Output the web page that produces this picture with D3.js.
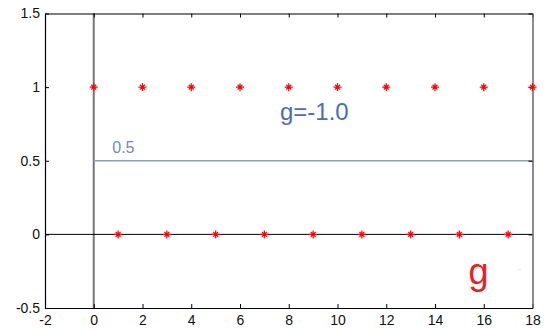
<!DOCTYPE html>
<html>
<head>
<meta charset="utf-8">
<script src="https://cdn.jsdelivr.net/npm/d3@7"></script>
<style>
  html, body { margin: 0; padding: 0; background: #fff; }
  svg { display: block; font-family: "Liberation Sans", Arial, sans-serif; }
</style>
</head>
<body>
<svg id="chart" width="547" height="330"></svg>
<script>
// Sample index n and sequence value for g = -1.0
const nValues = [0, 1, 2, 3, 4, 5, 6, 7, 8, 9, 10, 11, 12, 13, 14, 15, 16, 17, 18];
const seqValues = [1, 0, 1, 0, 1, 0, 1, 0, 1, 0, 1, 0, 1, 0, 1, 0, 1, 0, 1];
const meanLevel = 0.5;
const xTicks = [-2, 0, 2, 4, 6, 8, 10, 12, 14, 16, 18];
const xTickLabels = ["-2", "0", "2", "4", "6", "8", "10", "12", "14", "16", "18"];
const yTicks = [-0.5, 0, 0.5, 1, 1.5];
const yTickLabels = ["-0.5", "0", "0.5", "1", "1.5"];
const xDomain = [-2, 18];
const yDomain = [-0.5, 1.5];

const svg = d3.select("#chart");
const plotLeft = 45, plotRight = 532.5, plotTop = 13.5, plotBottom = 308;

const x = d3.scaleLinear().domain(xDomain).range([plotLeft, plotRight]);
const y = d3.scaleLinear().domain(yDomain).range([plotBottom, plotTop]);

// Reference lines: x = 0 (gray) and y = 0 (black)
svg.append("line")
  .attr("x1", x(0)).attr("x2", x(0))
  .attr("y1", plotTop).attr("y2", plotBottom)
  .attr("stroke", "#777").attr("stroke-width", 2);
svg.append("line")
  .attr("x1", plotLeft).attr("x2", plotRight)
  .attr("y1", y(0)).attr("y2", y(0))
  .attr("stroke", "#000").attr("stroke-width", 1);

// Mean level line
svg.append("line")
  .attr("x1", x(0)).attr("x2", x(18))
  .attr("y1", y(meanLevel)).attr("y2", y(meanLevel))
  .attr("stroke", "#8c9db5").attr("stroke-width", 1.5);
svg.append("text")
  .attr("x", x(0) + 18.5).attr("y", y(meanLevel) - 7.5)
  .attr("fill", "#6a8ad0").attr("font-size", 16)
  .text(meanLevel.toFixed(1));

// Axes with inward ticks
const fmtX = d => xTickLabels[xTicks.indexOf(d)];
const fmtY = d => yTickLabels[yTicks.indexOf(d)];
const bottomAxis = svg.append("g").attr("transform", `translate(0,${plotBottom})`)
  .call(d3.axisBottom(x).tickValues(xTicks).tickFormat(fmtX).tickSizeInner(-4).tickSizeOuter(0).tickPadding(7));
const topAxis = svg.append("g").attr("transform", `translate(0,${plotTop})`)
  .call(d3.axisTop(x).tickValues(xTicks).tickSizeInner(-4).tickSizeOuter(0).tickFormat(""));
const leftAxis = svg.append("g").attr("transform", `translate(${plotLeft},0)`)
  .call(d3.axisLeft(y).tickValues(yTicks).tickFormat(fmtY).tickSizeInner(-4).tickSizeOuter(0).tickPadding(5));
const rightAxis = svg.append("g").attr("transform", `translate(${plotRight},0)`)
  .call(d3.axisRight(y).tickValues(yTicks).tickSizeInner(-4).tickSizeOuter(0).tickFormat(""));

[bottomAxis, topAxis, leftAxis, rightAxis].forEach(g => {
  g.selectAll("text").attr("font-size", 14).attr("fill", "#111")
    .attr("font-family", "'Liberation Sans', Arial, sans-serif");
  g.selectAll("line").attr("stroke", "#000");
  g.select(".domain").attr("stroke", "#000").attr("stroke-width", 1.2);
});
rightAxis.select(".domain").attr("stroke", "#666").attr("stroke-width", 1.5);
bottomAxis.selectAll("text").attr("dy", "0.71em");

// Asterisk markers
const marks = svg.append("g")
  .selectAll("g")
  .data(nValues.map((n, i) => ({ n, v: seqValues[i] })))
  .join("g")
  .attr("transform", d => `translate(${x(d.n)},${y(d.v)})`)
  .attr("stroke", "#ff1010").attr("stroke-width", 1.3);
const arm = 4, diag = 2.4;
marks.append("line").attr("x1", -arm).attr("x2", arm).attr("y1", 0).attr("y2", 0);
marks.append("line").attr("x1", 0).attr("x2", 0).attr("y1", -arm).attr("y2", arm);
marks.append("line").attr("x1", -diag).attr("x2", diag).attr("y1", -diag).attr("y2", diag);
marks.append("line").attr("x1", -diag).attr("x2", diag).attr("y1", diag).attr("y2", -diag);
marks.append("circle").attr("r", 1.6).attr("fill", "#ff0000").attr("stroke", "none");

// Annotations
svg.append("text")
  .attr("x", 280).attr("y", 120)
  .attr("fill", "#4d6cb8").attr("font-size", 24)
  .text("g=-1.0");
svg.append("text")
  .attr("x", 468.5).attr("y", 284)
  .attr("fill", "#ee1c24").attr("font-size", 36)
  .text("g");
svg.append("text")
  .attr("x", 517).attr("y", 270)
  .attr("fill", "#a8bde0").attr("font-size", 7)
  .text("..");
</script>
</body>
</html>
